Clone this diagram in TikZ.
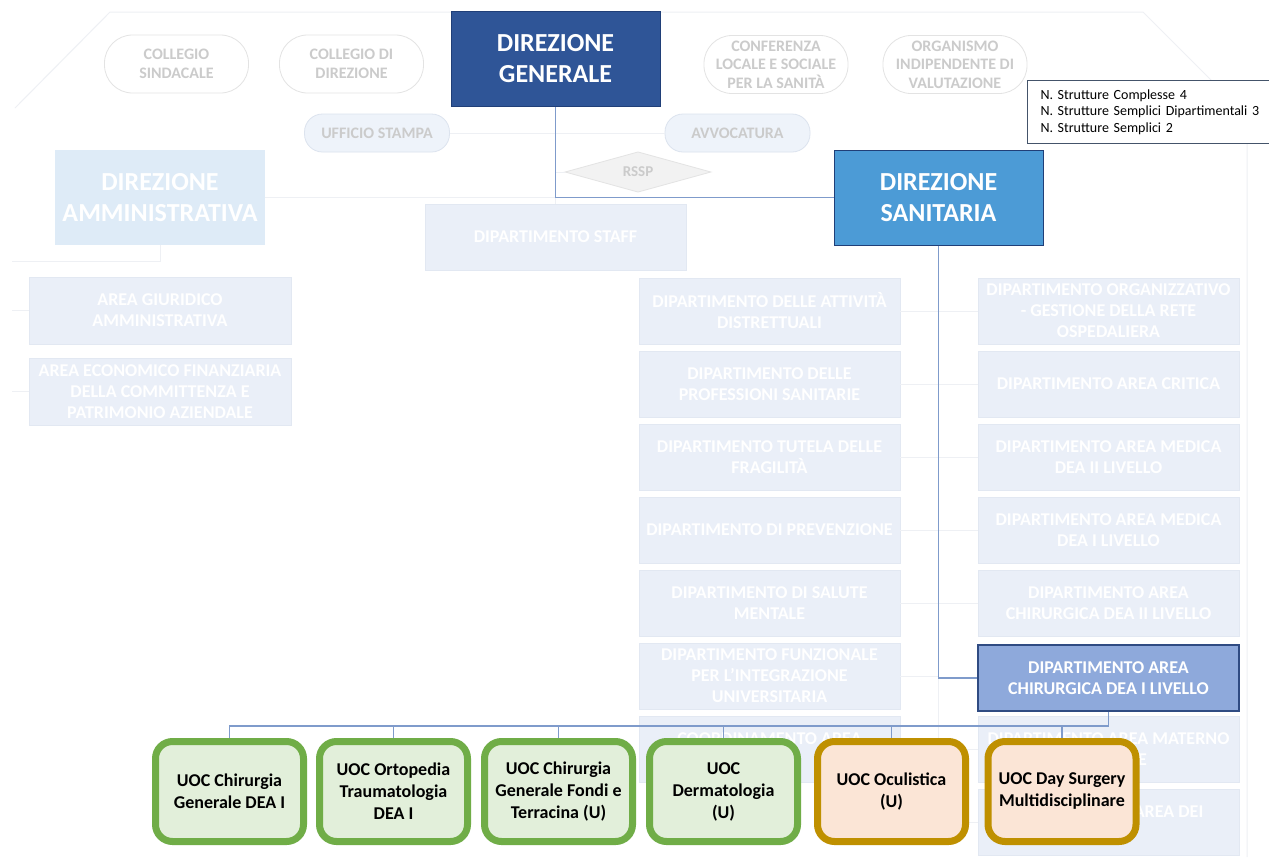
\documentclass[tikz,border=0pt]{standalone}
\usepackage{fontspec}
\setmainfont{Carlito}
\usetikzlibrary{shapes.geometric}
\definecolor{dgfill}{HTML}{2F5597}
\definecolor{dgdraw}{HTML}{203F78}
\definecolor{dsfill}{HTML}{4C9BD6}
\definecolor{hlfill}{HTML}{8EA9DB}
\definecolor{hldraw}{HTML}{2F4B82}
\definecolor{dafill}{HTML}{DEEBF7}
\definecolor{fadefill}{HTML}{EAEFF8}
\definecolor{fadedraw}{HTML}{E2E8F2}
\definecolor{pilldraw}{HTML}{E3E3E3}
\definecolor{pilltext}{HTML}{CBCBCB}
\definecolor{pillbfill}{HTML}{EEF3FA}
\definecolor{pillbdraw}{HTML}{DCE3EE}
\definecolor{rsspfill}{HTML}{F2F2F2}
\definecolor{connc}{HTML}{7F9BCB}
\definecolor{faintc}{HTML}{EEF0F4}
\definecolor{greenb}{HTML}{70AD47}
\definecolor{greenf}{HTML}{E2EFDA}
\definecolor{goldb}{HTML}{BF9000}
\definecolor{goldf}{HTML}{FBE5D6}
\definecolor{infodraw}{HTML}{44546A}
\begin{document}
\begin{tikzpicture}[x=1pt,y=-1pt,
  pill/.style={draw=pilldraw, fill=white, line width=0.8pt, rounded corners=28pt,
    minimum width=144pt, minimum height=58pt, inner sep=1pt, align=center,
    text=pilltext, font=\fontsize{16}{18.5}\selectfont\bfseries},
  pillb/.style={draw=pillbdraw, fill=pillbfill, line width=0.8pt, rounded corners=18pt,
    minimum width=145pt, minimum height=38pt, inner sep=1pt, align=center,
    text=pilltext, font=\fontsize{16}{18.5}\selectfont\bfseries},
  bigbox/.style={minimum width=209pt, minimum height=95pt, inner sep=1pt, align=center,
    text=white, font=\fontsize{26}{31}\selectfont\bfseries},
  faded/.style={draw=fadedraw, fill=fadefill, line width=0.8pt, minimum width=261pt,
    minimum height=66pt, inner sep=1pt, align=center, text=white,
    font=\fontsize{18}{21}\selectfont\bfseries},
  uoc/.style={rounded corners=17pt, line width=7pt, minimum width=148pt, minimum height=100pt,
    inner sep=1pt, align=center, text=black, font=\fontsize{18}{22}\selectfont\bfseries},
  uocg/.style={uoc, draw=greenb, fill=greenf},
  uoco/.style={uoc, draw=goldb, fill=goldf},
  conn/.style={draw=connc, line width=1.1pt},
  faint/.style={draw=faintc, line width=1pt}]
\useasboundingbox (0,0) rectangle (1269,857);
\fill[white] (0,0) rectangle (1269,857);
% outer faint frame
\draw[faint] (15,108) -- (110,12) -- (1143,12) -- (1247,116) -- (1247,857);

% top pills
\node[pill] (cs) at (176.5,64) {COLLEGIO\\SINDACALE};
\node[pill] (cd) at (351.5,64) {COLLEGIO DI\\DIREZIONE};
\node[pill] (clss) at (776,64.5) {CONFERENZA\\LOCALE E SOCIALE\\PER LA SANITÀ};
\node[pill] (oiv) at (955,64.5) {ORGANISMO\\INDIPENDENTE DI\\VALUTAZIONE};
\node[pillb] (us) at (377,133) {UFFICIO STAMPA};
\node[pillb] (avv) at (737.5,133) {AVVOCATURA};
\node[shape=diamond, draw=pilldraw, fill=rsspfill, line width=0.8pt,
  minimum width=146pt, minimum height=38pt, inner sep=0pt, text=pilltext,
  font=\fontsize{15}{17}\selectfont\bfseries] (rssp) at (638,172) {RSSP};

% main boxes
\node[bigbox, fill=dgfill, draw=dgdraw, line width=1pt] (dg) at (555.5,59) {DIREZIONE\\GENERALE};
\node[bigbox, fill=dafill, minimum width=210pt] (da) at (160,197.5) {DIREZIONE\\AMMINISTRATIVA};
\node[bigbox, fill=dsfill, draw=dgdraw, line width=1pt] (ds) at (938.5,197.5) {DIREZIONE\\SANITARIA};
\node[faded] (staff) at (555.5,237) {DIPARTIMENTO STAFF};

% info box
\node[draw=infodraw, fill=white, line width=1pt, anchor=north west, minimum height=63pt,
  text width=224pt, inner xsep=13pt, inner ysep=4pt, align=left,
  font=\fontsize{14}{16.5}\selectfont] (info) at (1027,80)
  {N. Strutture Complesse 4\\N. Strutture Semplici Dipartimentali 3\\N. Strutture Semplici 2};

% administrative areas
\node[faded, minimum width=262pt, minimum height=67pt] (agiu) at (160,310.5) {AREA GIURIDICO\\AMMINISTRATIVA};
\node[faded, minimum width=262pt, minimum height=67pt] (aeco) at (160,391.5) {AREA ECONOMICO FINANZIARIA\\DELLA COMMITTENZA E\\PATRIMONIO AZIENDALE};

% left column departments
\node[faded] (l1) at (769.5,311) {DIPARTIMENTO DELLE ATTIVITÀ\\DISTRETTUALI};
\node[faded] (l2) at (769.5,384) {DIPARTIMENTO DELLE\\PROFESSIONI SANITARIE};
\node[faded] (l3) at (769.5,457) {DIPARTIMENTO TUTELA DELLE\\FRAGILITÀ};
\node[faded] (l4) at (769.5,530) {DIPARTIMENTO DI PREVENZIONE};
\node[faded] (l5) at (769.5,603) {DIPARTIMENTO DI SALUTE\\MENTALE};
\node[faded] (l6) at (769.5,676) {DIPARTIMENTO FUNZIONALE\\PER L’INTEGRAZIONE\\UNIVERSITARIA};
\node[faded] (l7) at (769.5,749) {COORDINAMENTO AREA\\\mbox{}};

% right column departments
\node[faded] (r1) at (1108.5,311) {DIPARTIMENTO ORGANIZZATIVO\\- GESTIONE DELLA RETE\\OSPEDALIERA};
\node[faded] (r2) at (1108.5,384) {DIPARTIMENTO AREA CRITICA};
\node[faded] (r3) at (1108.5,457) {DIPARTIMENTO AREA MEDICA\\DEA II LIVELLO};
\node[faded] (r4) at (1108.5,530) {DIPARTIMENTO AREA MEDICA\\DEA I LIVELLO};
\node[faded] (r5) at (1108.5,603) {DIPARTIMENTO AREA\\CHIRURGICA DEA II LIVELLO};
\node[faded] (r7) at (1108.5,749) {DIPARTIMENTO AREA MATERNO\\INFANTILE};
\node[faded] (r8) at (1108.5,822) {DIPARTIMENTO AREA DEI\\\mbox{}};
\node[faded, fill=hlfill, draw=hldraw, line width=1.2pt] (hl) at (1108.5,678) {DIPARTIMENTO AREA\\CHIRURGICA DEA I LIVELLO};

% faint connectors
\draw[faint] (us.east) -- (avv.west);
\draw[faint] (da.east) -- (dg.south |- da.east);
\draw[faint] (rssp.west) -- (dg.south |- rssp.west);
\draw[faint] (dg.south |- da.east) -- (staff.north);
\coordinate (lbus) at (12,261);
\draw[faint] (da.south) |- (lbus);
\draw[faint] (lbus |- agiu.west) -- (agiu.west);
\draw[faint] (lbus |- aeco.west) -- (aeco.west);
\foreach \i in {1,2,3,4,5,7}{\draw[faint] (l\i.east) -- (r\i.west);}
\draw[faint] (l6.east) -- (ds.south |- l6.east);
\draw[faint] (ds.south |- hl.west) -- (ds.south |- r8.west) -- (r8.west);

% blue connectors
\draw[conn] (dg.south) -- (dg.south |- ds.west) -- (ds.west);
\draw[conn] (ds.south) |- (hl.west);

% UOC boxes
\node[uocg] (u1) at (229.5,791.5) {UOC Chirurgia\\Generale DEA I};
\node[uocg] (u2) at (393.5,791.5) {UOC Ortopedia\\Traumatologia\\DEA I};
\node[uocg] (u3) at (558.5,791.5) {UOC Chirurgia\\Generale Fondi e\\Terracina (U)};
\node[uocg] (u4) at (723.5,791.5) {UOC\\Dermatologia\\(U)};
\node[uoco] (u5) at (891.5,791.5) {UOC Oculistica\\(U)};
\node[uoco] (u6) at (1062,791.5) {UOC Day Surgery\\Multidisciplinare};

\coordinate (bus) at (0,726);
\draw[conn] (hl.south) -- (hl.south |- bus) -- (u1.north |- bus) -- (u1.north);
\foreach \i in {2,3,4,5,6}{\draw[conn] (u\i.north |- bus) -- (u\i.north);}
\end{tikzpicture}
\end{document}
